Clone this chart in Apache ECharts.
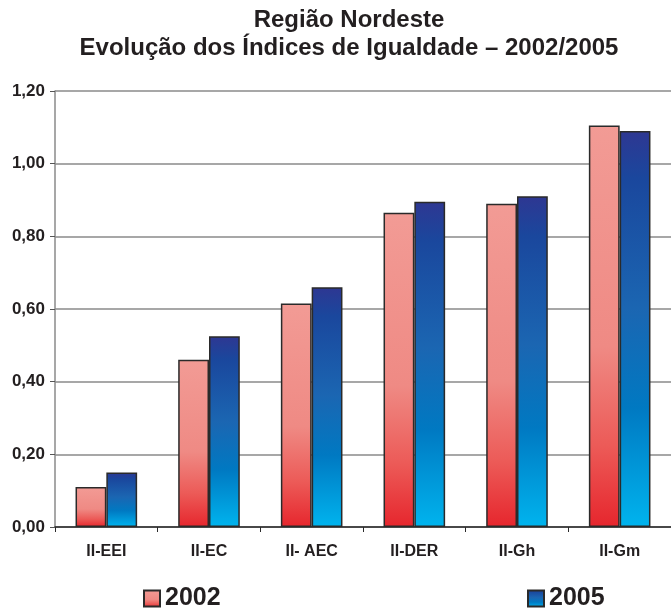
<!DOCTYPE html>
<html>
<head>
<meta charset="utf-8">
<script src="https://cdn.jsdelivr.net/npm/echarts@6/dist/echarts.min.js"></script>
<style>html,body{margin:0;padding:0;background:#fff}#c{width:671px;height:608px}</style>
</head>
<body>
<div id="c"></div>
<script>
const categories = ['II-EEI', 'II-EC', 'II- AEC', 'II-DER', 'II-Gh', 'II-Gm'];
const values2002 = [0.11, 0.46, 0.615, 0.865, 0.89, 1.105];
const values2005 = [0.15, 0.525, 0.66, 0.895, 0.91, 1.09];
const seriesNames = ['2002', '2005'];
const titleLines = ['Região Nordeste', 'Evolução dos Índices de Igualdade – 2002/2005'];

const FONT = '"Liberation Sans", Arial, Helvetica, sans-serif';
const TXT = '#231f20';

const grad2002 = new echarts.graphic.LinearGradient(0, 0, 0, 1, [
  {offset: 0, color: '#f29b95'},
  {offset: 0.55, color: '#ef8a84'},
  {offset: 0.8, color: '#ec5a57'},
  {offset: 1, color: '#e6262d'}
]);
const grad2005 = new echarts.graphic.LinearGradient(0, 0, 0, 1, [
  {offset: 0, color: '#2e3792'},
  {offset: 0.12, color: '#1a479d'},
  {offset: 0.45, color: '#1b66b2'},
  {offset: 0.7, color: '#0079c2'},
  {offset: 1, color: '#00b4ee'}
]);

const chart = echarts.init(document.getElementById('c'), null, {renderer: 'canvas'});
chart.setOption({
  animation: false,
  textStyle: {fontFamily: FONT},
  title: {
    text: titleLines.join('\n'),
    left: 349,
    textAlign: 'center',
    top: 6,
    padding: 0,
    textStyle: {fontFamily: FONT, fontWeight: 'bold', fontSize: 24, lineHeight: 28, color: TXT}
  },
  legend: [
    {
      data: [seriesNames[0]], left: 143, top: 586, padding: 0, itemWidth: 16, itemHeight: 16, itemGap: 5,
      icon: 'rect',
      textStyle: {fontFamily: FONT, fontWeight: 'bold', fontSize: 25, lineHeight: 25, color: TXT}
    },
    {
      data: [seriesNames[1]], left: 527, top: 586, padding: 0, itemWidth: 16, itemHeight: 16, itemGap: 5,
      icon: 'rect',
      textStyle: {fontFamily: FONT, fontWeight: 'bold', fontSize: 25, lineHeight: 25, color: TXT}
    }
  ],
  grid: {left: 55, top: 91, width: 623, height: 436, containLabel: false},
  xAxis: {
    type: 'category',
    data: categories,
    axisLine: {lineStyle: {color: '#2a2a2a', width: 1.5}},
    axisTick: {show: true, length: 5, lineStyle: {color: '#2a2a2a', width: 1}},
    axisLabel: {fontFamily: FONT, fontWeight: 'bold', fontSize: 16, color: TXT, margin: 17}
  },
  yAxis: {
    type: 'value',
    min: 0, max: 1.2, interval: 0.2,
    axisLine: {show: true, lineStyle: {color: '#8a8a8a', width: 1.5}},
    axisTick: {show: true, length: 5, lineStyle: {color: '#555', width: 1}},
    splitLine: {show: true, lineStyle: {color: '#8a8a8a', width: 1.5}},
    axisLabel: {
      fontFamily: FONT, fontWeight: 'bold', fontSize: 17, color: TXT, margin: 10,
      formatter: v => v.toFixed(2).replace('.', ',')
    }
  },
  series: [
    {
      name: seriesNames[0], type: 'bar', data: values2002,
      barWidth: '30%', barGap: '0%',
      itemStyle: {color: grad2002, borderColor: '#2a2a2a', borderWidth: 1.5}
    },
    {
      name: seriesNames[1], type: 'bar', data: values2005,
      barWidth: '30%', barGap: '0%',
      itemStyle: {color: grad2005, borderColor: '#2a2a2a', borderWidth: 1.5}
    }
  ]
});
</script>
</body>
</html>
